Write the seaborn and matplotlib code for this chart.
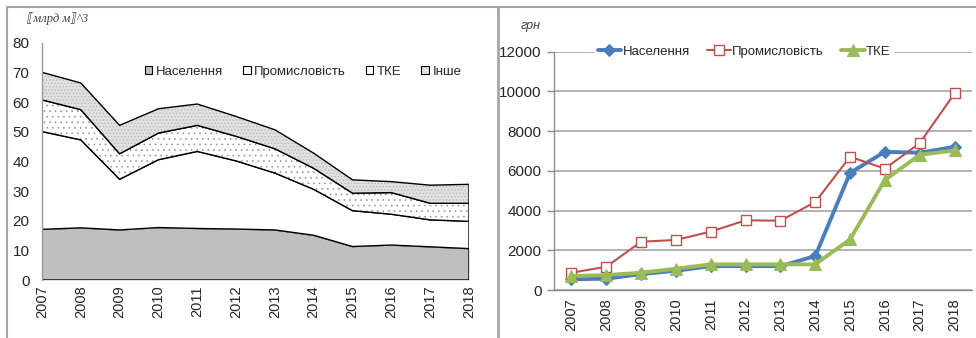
import numpy as np
import pandas as pd
import matplotlib
matplotlib.use("Agg")
import matplotlib.pyplot as plt
import seaborn as sns
from matplotlib.lines import Line2D
from matplotlib.patches import Patch

# дані
years = [2007, 2008, 2009, 2010, 2011, 2012, 2013, 2014, 2015, 2016, 2017, 2018]

# обсяги споживання газу, млрд м3
naselennia = [17.1, 17.6, 16.9, 17.7, 17.4, 17.2, 16.9, 15.1, 11.3, 11.8, 11.2, 10.6]
promyslovist = [33.0, 29.7, 17.1, 22.9, 26.0, 23.0, 19.2, 15.5, 12.1, 10.4, 9.1, 9.2]
tke = [10.7, 10.2, 8.6, 9.0, 8.8, 8.3, 8.2, 7.1, 5.9, 7.3, 5.6, 6.1]
inshe = [9.3, 9.0, 9.6, 8.2, 7.2, 6.7, 6.4, 5.1, 4.5, 3.7, 6.1, 6.4]

# ціни, грн
price_naselennia = [540, 570, 800, 970, 1200, 1200, 1200, 1710, 5900, 6960, 6910, 7210]
price_promyslovist = [870, 1170, 2430, 2520, 2940, 3510, 3490, 4430, 6710, 6110, 7400, 9900]
price_tke = [700, 750, 870, 1070, 1290, 1290, 1290, 1290, 2550, 5540, 6810, 7030]

sns.set_style("white")
plt.rcParams['font.family'] = ['Liberation Sans Narrow', 'Liberation Sans', 'DejaVu Sans']
plt.rcParams['hatch.linewidth'] = 0.5

fig = plt.figure(figsize=(9.76, 3.38), dpi=100)

# рамки панелей
border = '#a6a6a6'
fig.add_artist(Line2D([7/976, 7/976], [0, 1 - 7/338], color=border, lw=1.5))
fig.add_artist(Line2D([7/976, 1], [1 - 7/338, 1 - 7/338], color=border, lw=1.5))
fig.add_artist(Line2D([498/976, 498/976], [0, 1 - 7/338], color=border, lw=2))

# ---------- ліва діаграма: структура споживання ----------
ax1 = fig.add_axes([42/976, 1 - 280/338, 427/976, 237/338])

layers = [naselennia, promyslovist, tke, inshe]
names = ['Населення', 'Промисловість', 'ТКЕ', 'Інше']
faces = ['#bfbfbf', 'white', 'white', '#e0e0e0']
hatches = [None, None, '...', '.....']
hatch_cols = ['#bfbfbf', 'white', '#9a9a9a', '#b5b5b5']

bottom = np.zeros(len(years))
handles = []
for vals, name, fc, h, hc in zip(layers, names, faces, hatches, hatch_cols):
    top = bottom + np.array(vals)
    # заливка з візерунком
    ax1.fill_between(years, bottom, top, facecolor=fc, hatch=h,
                     edgecolor=hc, linewidth=0)
    # чорний контур
    ax1.fill_between(years, bottom, top, facecolor='none',
                     edgecolor='black', linewidth=1.0)
    handles.append(Patch(facecolor=fc, edgecolor='black', linewidth=0.8, label=name))
    bottom = top

ax1.set_xlim(2007, 2018)
ax1.set_ylim(0, 80)
ax1.set_xticks(years)
ax1.set_xticklabels([str(y) for y in years], rotation=90, fontsize=10.5)
ax1.set_yticks(range(0, 81, 10))
ax1.tick_params(axis='y', labelsize=11, length=0, pad=9)
ax1.tick_params(axis='x', length=0, pad=4)
for s in ['top', 'right', 'bottom']:
    ax1.spines[s].set_visible(False)
ax1.spines['left'].set_color('#9a9a9a')
ax1.spines['left'].set_linewidth(1)
ax1.text(-0.035, 1.09, '⟦млрд м⟧^3', transform=ax1.transAxes, fontsize=9,
         style='italic', color='#404040', ha='left',
         family=['Liberation Serif', 'DejaVu Sans', 'Noto Sans CJK JP'])
leg1 = ax1.legend(handles=handles, loc='upper right', bbox_to_anchor=(1.01, 0.955),
                  ncol=4, frameon=False, fontsize=9.5, handlelength=0.6,
                  handleheight=0.6, handletextpad=0.25, columnspacing=1.5)

# ---------- права діаграма: ціни ----------
ax2 = fig.add_axes([554/976, 1 - 290/338, 418/976, 238.3/338])

idx = np.arange(len(years))
df = pd.DataFrame({'idx': idx, 'Населення': price_naselennia,
                   'Промисловість': price_promyslovist, 'ТКЕ': price_tke})

sns.lineplot(data=df, x='idx', y='Населення', ax=ax2, color='#4a7ebb', lw=2.8,
             marker='D', markersize=6.5, markeredgecolor='#4a7ebb', label='Населення')
sns.lineplot(data=df, x='idx', y='Промисловість', ax=ax2, color='#c0504d', lw=1.5,
             marker='s', markersize=7, markerfacecolor='white', markeredgecolor='#c0504d',
             markeredgewidth=1.0, label='Промисловість')
sns.lineplot(data=df, x='idx', y='ТКЕ', ax=ax2, color='#9bbb59', lw=2.8,
             marker='^', markersize=8, markeredgecolor='#9bbb59', label='ТКЕ')

ax2.set_xlim(-0.5, len(years) - 0.5)
ax2.set_ylim(0, 12000)
ax2.set_xlabel('')
ax2.set_ylabel('')
ax2.set_yticks(range(0, 12001, 2000))
ax2.yaxis.grid(True, color='#a6a6a6', lw=1.2)
ax2.set_xticks(idx)
ax2.set_xticklabels([str(y) for y in years], rotation=90, fontsize=10.5)
ax2.set_xticks(np.arange(-0.5, len(years), 1), minor=True)
ax2.tick_params(axis='x', which='major', length=0, pad=6)
ax2.tick_params(axis='x', which='minor', length=5, color='#8c8c8c', width=1, direction='out')
ax2.tick_params(axis='y', labelsize=11, length=5, color='#8c8c8c', width=1,
                direction='out', left=True, pad=4)
for s in ['top', 'right']:
    ax2.spines[s].set_visible(False)
for s in ['left', 'bottom']:
    ax2.spines[s].set_color('#8c8c8c')
    ax2.spines[s].set_linewidth(1)
ax2.text(-0.08, 1.095, 'грн', transform=ax2.transAxes, fontsize=9,
         style='italic', color='#404040', ha='left')
leg2 = ax2.legend(loc='center', bbox_to_anchor=(0.455, 1.0), ncol=3, frameon=True,
                  fontsize=9.5, handlelength=1.8, handletextpad=0.1,
                  columnspacing=1.3, borderpad=0.2)
leg2.get_frame().set_facecolor('white')
leg2.get_frame().set_edgecolor('white')
leg2.get_frame().set_alpha(1)

fig.savefig('out.png', dpi=100)
